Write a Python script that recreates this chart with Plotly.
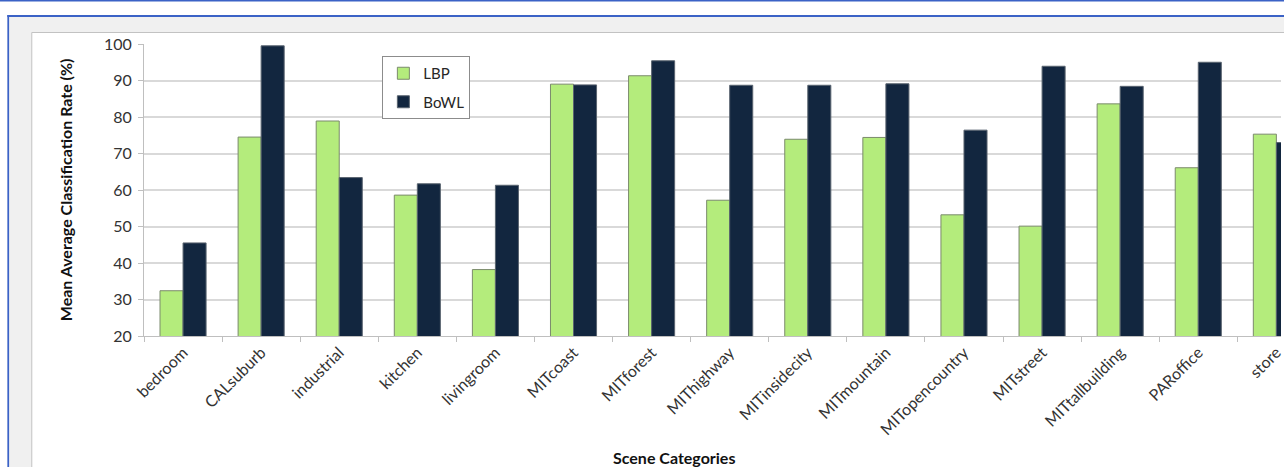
import plotly.graph_objects as go

# Scene categories and mean average classification rates (%)
categories = ["bedroom", "CALsuburb", "industrial", "kitchen", "livingroom",
              "MITcoast", "MITforest", "MIThighway", "MITinsidecity",
              "MITmountain", "MITopencountry", "MITstreet", "MITtallbuilding",
              "PARoffice", "store"]
lbp = [32.4, 74.5, 78.9, 58.6, 38.2, 89.0, 91.3, 57.2, 73.9, 74.4,
       53.2, 50.1, 83.6, 66.1, 75.3]
bowl = [45.5, 99.5, 63.4, 61.7, 61.3, 88.8, 95.4, 88.7, 88.7, 89.1,
        76.4, 93.9, 88.4, 95.0, 73.0]

W, H = 1284, 467
L, R, T, B = 144, 0, 44, 131
PW, PH = W - L - R, H - T - B
FONT = "Lato, 'Open Sans', sans-serif"


def px(x):
    return (x - L) / PW


def py(y):
    return (H - B - y) / PH


fig = go.Figure()
fig.add_trace(go.Bar(
    name="LBP", x=categories, y=lbp, legendgroup="a",
    marker=dict(color="#b4ec7c", line=dict(color="#7b8a6c", width=1)),
))
fig.add_trace(go.Bar(
    name="BoWL", x=categories, y=bowl, legendgroup="b",
    marker=dict(color="#12263f", line=dict(color="#5a6470", width=1)),
))

blue = "#3b62c6"
shapes = [
    # window frame
    dict(type="rect", xref="paper", yref="paper", x0=px(-5), x1=px(W + 5),
         y0=py(1.5), y1=py(-1), fillcolor=blue, line_width=0, layer="below"),
    dict(type="rect", xref="paper", yref="paper", x0=px(7), x1=px(W + 5),
         y0=py(17), y1=py(15), fillcolor=blue, line_width=0, layer="below"),
    dict(type="rect", xref="paper", yref="paper", x0=px(7), x1=px(9),
         y0=py(H + 5), y1=py(15), fillcolor=blue, line_width=0, layer="below"),
    dict(type="rect", xref="paper", yref="paper", x0=px(9), x1=px(W + 5),
         y0=py(H + 5), y1=py(17), fillcolor="#f0f0f0", line_width=0, layer="below"),
    # chart area
    dict(type="rect", xref="paper", yref="paper", x0=px(31.5), x1=px(W + 10),
         y0=py(H + 10), y1=py(32.5), fillcolor="#ffffff",
         line=dict(color="#c2c2c2", width=1), layer="below"),
]

annotations = [
    dict(text="<b>Mean Average Classification Rate (%)</b>", xref="paper", yref="paper",
         x=px(65), y=py(190), textangle=-90, showarrow=False,
         font=dict(family=FONT, size=16, color="#111111"),
         xanchor="center", yanchor="middle"),
    dict(text="<b>Scene Categories</b>", xref="paper", yref="paper",
         x=px(675), y=py(457), showarrow=False,
         font=dict(family=FONT, size=16, color="#111111"),
         xanchor="center", yanchor="middle"),
]

fig.update_layout(
    width=W, height=H,
    margin=dict(l=L, r=R, t=T, b=B, pad=0),
    paper_bgcolor="#ffffff", plot_bgcolor="#ffffff",
    barmode="group", bargap=0.41, bargroupgap=0,
    font=dict(family=FONT, size=16, color="#333333"),
    shapes=shapes, annotations=annotations,
    showlegend=True,
    legend=dict(
        x=px(383), y=py(56), xanchor="left", yanchor="top",
        bgcolor="#ffffff", bordercolor="#8c8c8c", borderwidth=1,
        font=dict(family=FONT, size=15, color="#262626"),
        traceorder="grouped", tracegroupgap=6,
    ),
    xaxis=dict(
        type="category", range=[-0.5, -0.5 + PW / 78.3],
        tickangle=-45, tickson="boundaries",
        ticks="outside", ticklen=5, tickcolor="#bfbfbf",
        showline=True, linecolor="#bfbfbf", linewidth=1,
        showgrid=False, tickfont=dict(family=FONT, size=16, color="#333333"),
    ),
    yaxis=dict(
        range=[20, 100], dtick=10, tick0=20,
        ticks="outside", ticklen=5, tickcolor="#bfbfbf",
        ticklabelstandoff=3,
        showline=True, linecolor="#bfbfbf", linewidth=1,
        showgrid=True, gridcolor="#d9d9d9", gridwidth=1.5,
        zeroline=False, tickfont=dict(family=FONT, size=16, color="#333333"),
    ),
)

fig.write_html("out.html")
